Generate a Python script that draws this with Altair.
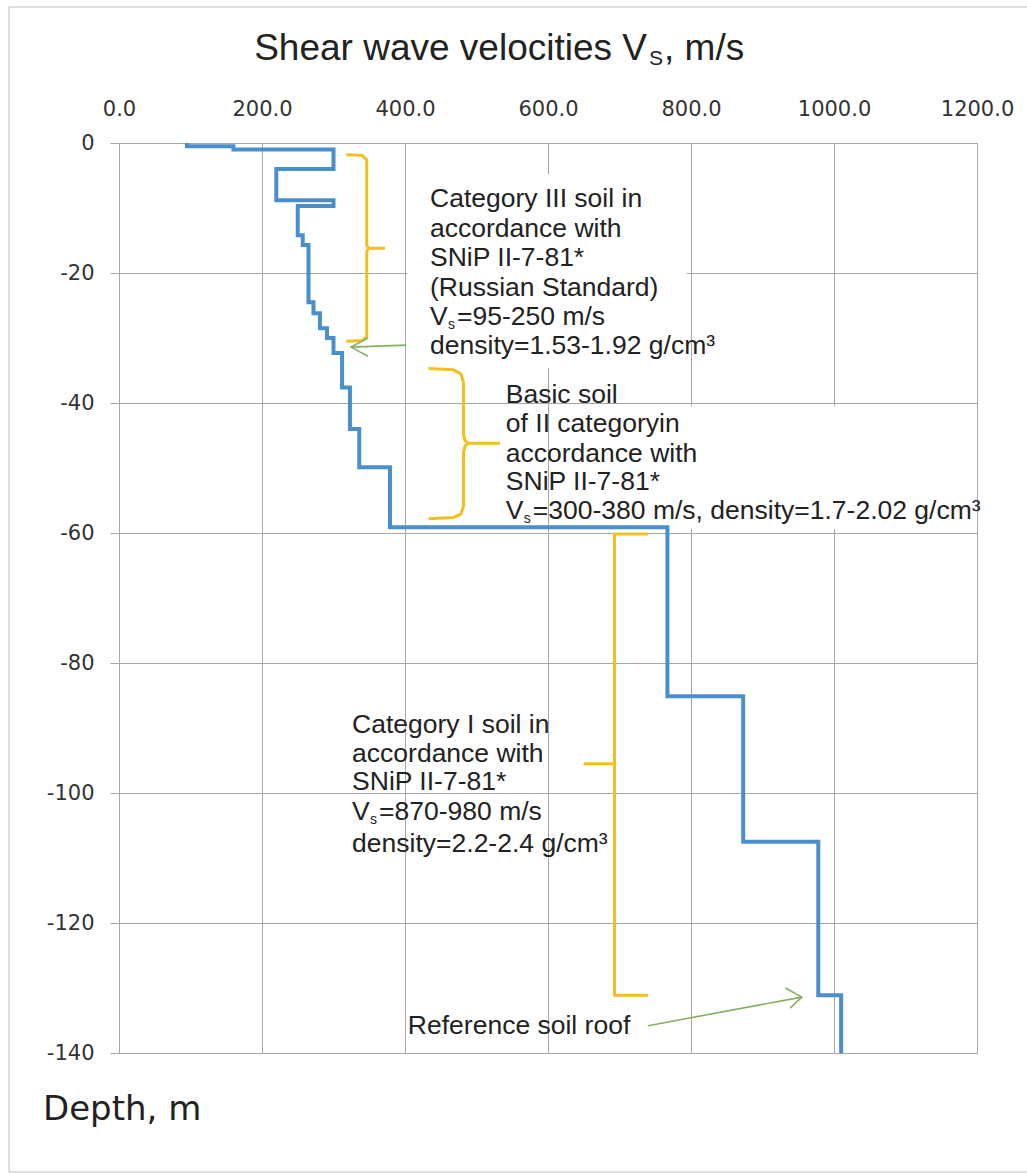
import altair as alt
import pandas as pd

# ---------------- data ----------------
# shear-wave velocity profile (layer tops in m, Vs in m/s)
layer_top = [0, -0.5, -1.0, -4.0, -8.8, -9.7, -14.2, -15.7, -24.5, -26.2, -28.5,
             -30.0, -32.3, -37.6, -44.0, -49.9, -59.1, -85.1, -107.5, -131.1]
layer_bottom = layer_top[1:] + [-140]
vs = [95, 160, 300, 220, 300, 250, 257, 265, 272, 281, 291,
      300, 312, 323, 336, 379, 767, 873, 978, 1010]

x_ticks = [0, 200, 400, 600, 800, 1000, 1200]
y_ticks = [-140, -120, -100, -80, -60, -40, -20, 0]

# braces (yellow)
brace1_v = [318, 340, 346.5, 346.5, 349, 372, 349, 346.5, 346.5, 340, 318]
brace1_d = [-1.8, -1.9, -2.6, -15.7, -16.2, -16.2, -16.2, -16.7, -29.8, -30.4, -30.5]
brace2_v = [432.8, 467.8, 478, 481.8, 481.8, 484, 488.8, 533, 488.8, 484, 481.8, 481.8, 478, 467.8, 432.8]
brace2_d = [-34.7, -34.9, -35.5, -36.8, -44.8, -45.8, -46.2, -46.2, -46.2, -46.6, -47.6, -55.9, -57.1, -57.6, -57.8]
brace3_v = [740, 693, 693, 650, 693, 693, 740]
brace3_d = [-60.15, -60.15, -95.5, -95.5, -95.5, -131.1, -131.1]

# arrows (green): shaft and head
arrow1_shaft_v = [401.4, 324.5]
arrow1_shaft_d = [-31.1, -31.4]
arrow1_head_v = [348.3, 324.5, 348.3]
arrow1_head_d = [-30.0, -31.4, -32.8]
arrow2_shaft_v = [740, 955]
arrow2_shaft_d = [-135.8, -131.4]
arrow2_head_v = [932, 955, 938.5]
arrow2_head_d = [-130.0, -131.4, -133.1]

# annotation text
plain_text = ["Category III soil in", "accordance with", "SNiP II-7-81*",
              "(Russian Standard)", "density=1.53-1.92 g/cm³",
              "Basic soil", "of II categoryin", "accordance with", "SNiP II-7-81*",
              "Category I soil in", "accordance with", "SNiP II-7-81*",
              "density=2.2-2.4 g/cm³",
              "Reference soil roof"]
plain_v = [435] * 5 + [541] * 4 + [326] * 4 + [404]
plain_d = [-9.85, -14.4, -18.9, -23.5, -32.5,
           -40.0, -44.5, -49.0, -53.4,
           -90.8, -95.3, -99.6, -109.0,
           -137.1]
vs_rest = ["=95-250 m/s", "=300-380 m/s, density=1.7-2.02 g/cm³", "=870-980 m/s"]
vs_v = [435, 541, 326]
vs_d = [-28.0, -57.9, -104.2]

# white label boxes (hide grid lines behind text)
box_v = [403, 742]
box_v2 = [794, 1195]
box_d = [-4.8, -40.5]
box_d2 = [-34.6, -59.4]

title_main = "Shear wave velocities V"
title_sub = "S"
title_tail = ", m/s"
depth_label = "Depth, m"

# ---------------- tables ----------------
rows = []
k = 0
for t, b, v in zip(layer_top, layer_bottom, vs):
    rows.append({"v": v, "depth": t, "i": k}); k += 1
    rows.append({"v": v, "depth": b, "i": k}); k += 1
profile = pd.DataFrame(rows)

def path_df(groups):
    out = []
    for name, xs, ys in groups:
        for j, (a, b) in enumerate(zip(xs, ys)):
            out.append({"g": name, "v": a, "depth": b, "i": j})
    return pd.DataFrame(out)

braces = path_df([("b1", brace1_v, brace1_d), ("b2", brace2_v, brace2_d), ("b3", brace3_v, brace3_d)])
arrows = path_df([("a1s", arrow1_shaft_v, arrow1_shaft_d), ("a1h", arrow1_head_v, arrow1_head_d),
                  ("a2s", arrow2_shaft_v, arrow2_shaft_d), ("a2h", arrow2_head_v, arrow2_head_d)])
plain = pd.DataFrame({"t": plain_text, "v": plain_v, "depth": plain_d})
vsl = pd.DataFrame({"t": vs_rest, "v": vs_v, "depth": vs_d, "V": ["V"] * 3, "s": ["s"] * 3})
boxes = pd.DataFrame({"v": box_v, "v2": box_v2, "depth": box_d, "depth2": box_d2})

# ---------------- encodings ----------------
GRID = "#a6a6a6"
xscale = alt.Scale(domain=[0, 1200], nice=False, zero=False)
yscale = alt.Scale(domain=[-140, 0], nice=False, zero=False)
x_axis = alt.Axis(orient="top", values=x_ticks, format=".1f", grid=True, gridColor=GRID,
                  gridWidth=1, ticks=False, tickSize=0, domain=False, labelPadding=28,
                  labelBaseline="alphabetic", labelFont="DejaVu Sans", labelFontSize=21,
                  labelColor="#333333", labelFlush=False, labelOverlap=False, title=None)
y_axis = alt.Axis(values=y_ticks, labelExpr="'' + datum.value", grid=True, gridColor=GRID, gridWidth=1,
                  tickColor=GRID, tickSize=9, domainColor=GRID, labelPadding=16,
                  labelFont="DejaVu Sans", labelFontSize=21, labelColor="#333333",
                  labelFlush=False, labelOverlap=False, title=None)

def X(f="v"):
    return alt.X(f"{f}:Q", scale=xscale, axis=x_axis, title=None)

def Y(f="depth"):
    return alt.Y(f"{f}:Q", scale=yscale, axis=y_axis, title=None)

TXT = dict(font="Liberation Sans", fontSize=26.5, color="#222222", align="left", baseline="alphabetic")

box_layer = alt.Chart(boxes).mark_rect(fill="white").encode(
    x=X(), x2="v2:Q", y=Y(), y2="depth2:Q")

profile_layer = alt.Chart(profile).mark_line(color="#4A8FCC", strokeWidth=4, strokeJoin="miter").encode(
    x=X(), y=Y(), order="i:Q")

brace_layer = alt.Chart(braces).mark_line(color="#F2C01E", strokeWidth=3).encode(
    x=X(), y=Y(), detail="g:N", order="i:Q")

arrow_layer = alt.Chart(arrows).mark_line(color="#86B060", strokeWidth=1.6).encode(
    x=X(), y=Y(), detail="g:N", order="i:Q")

plain_layer = alt.Chart(plain).mark_text(**TXT).encode(x=X(), y=Y(), text="t:N")
v_layer = alt.Chart(vsl).mark_text(**TXT).encode(x=X(), y=Y(), text="V:N")
s_layer = alt.Chart(vsl).mark_text(font="Liberation Sans", fontSize=14, color="#222222",
                                   align="left", baseline="alphabetic", dx=18, dy=4).encode(
    x=X(), y=Y(), text="s:N")
rest_layer = alt.Chart(vsl).mark_text(dx=27, **TXT).encode(x=X(), y=Y(), text="t:N")

title1 = alt.Chart(pd.DataFrame({"t": [title_main]})).mark_text(
    font="Liberation Sans", fontSize=37, color="#222222", align="right", baseline="alphabetic").encode(
    x=alt.value(528), y=alt.value(-83), text="t:N")
title2 = alt.Chart(pd.DataFrame({"t": [title_sub]})).mark_text(
    font="Liberation Sans", fontSize=21, color="#222222", align="left", baseline="alphabetic").encode(
    x=alt.value(530), y=alt.value(-78), text="t:N")
title3 = alt.Chart(pd.DataFrame({"t": [title_tail]})).mark_text(
    font="Liberation Sans", fontSize=37, color="#222222", align="left", baseline="alphabetic").encode(
    x=alt.value(545), y=alt.value(-83), text="t:N")
depth_layer = alt.Chart(pd.DataFrame({"t": [depth_label]})).mark_text(
    font="DejaVu Sans", fontSize=34, color="#222222", align="left", baseline="alphabetic").encode(
    x=alt.value(-76), y=alt.value(977), text="t:N")
border = alt.Chart(pd.DataFrame({"t": ["frame"]})).mark_rect(
    fillOpacity=0, stroke="#bfbfbf", strokeWidth=1).encode(
    x=alt.value(-110), x2=alt.value(915), y=alt.value(-136), y2=alt.value(1029))

chart = alt.layer(
    border, box_layer, profile_layer, brace_layer, arrow_layer,
    plain_layer, v_layer, s_layer, rest_layer,
    title1, title2, title3, depth_layer,
).properties(
    width=858, height=910,
    padding={"left": 119, "top": 143, "right": 50, "bottom": 120},
    autosize=alt.AutoSizeParams(type="none"),
    background="white",
).configure_view(stroke=GRID, strokeWidth=1)

chart.save("out.html", embed_options={"renderer": "svg", "actions": False})
